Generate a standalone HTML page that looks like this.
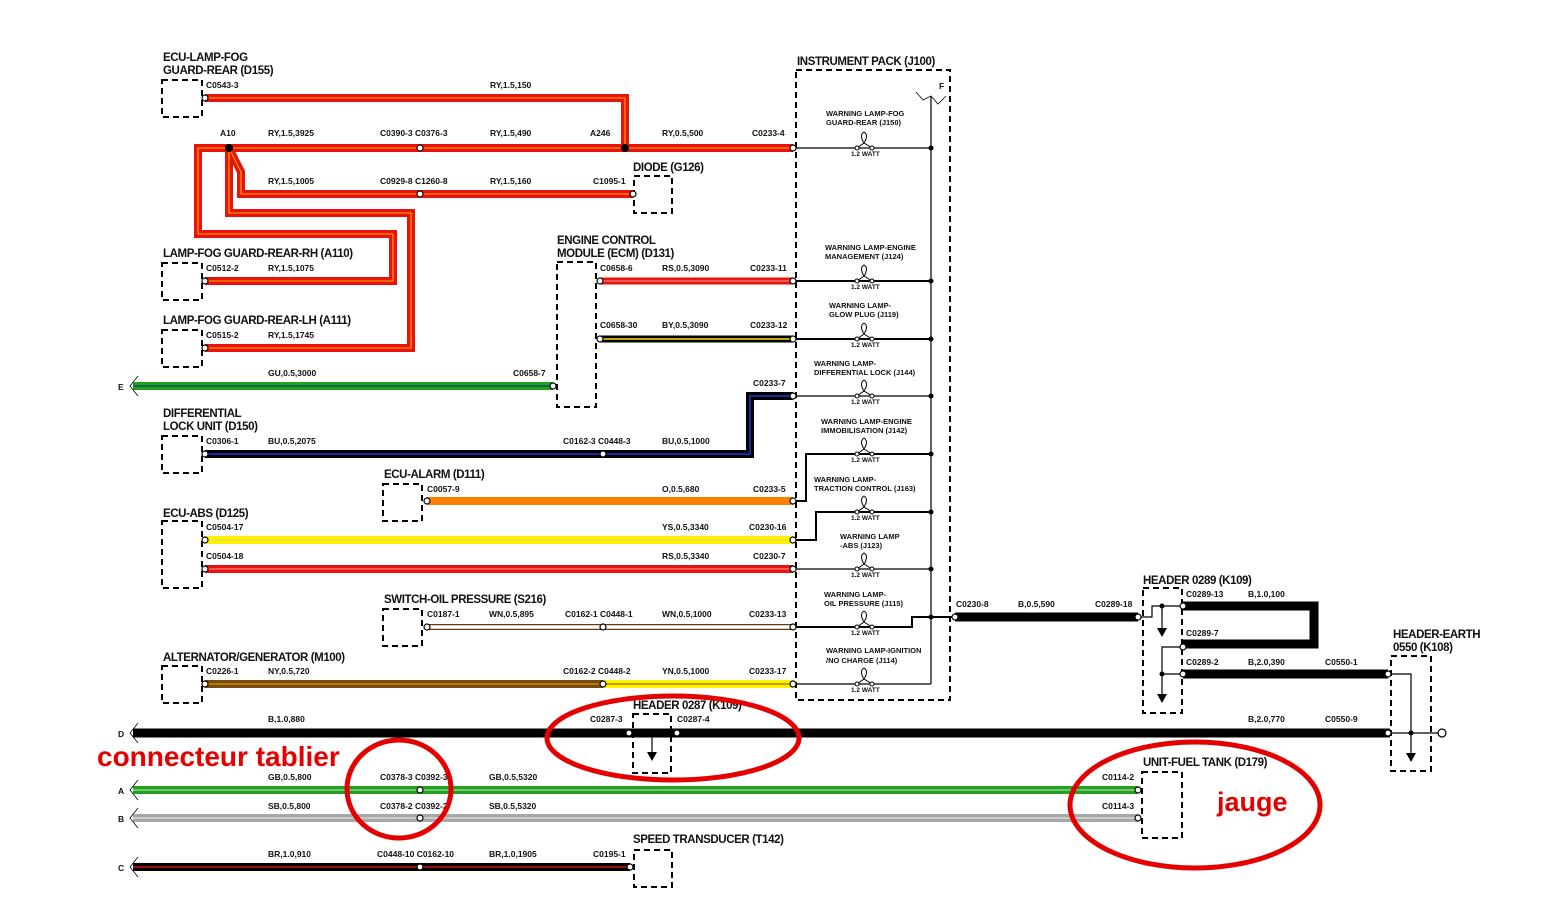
<!DOCTYPE html>
<html><head><meta charset="utf-8"><style>
html,body{margin:0;padding:0;background:#fff;}
svg{display:block;}
text{font-family:"Liberation Sans Narrow","Liberation Sans",sans-serif;fill:#111;}
.s{font-size:8.5px;font-weight:bold;}
.t{font-size:11.5px;font-weight:bold;letter-spacing:-0.4px;}
.l{font-size:7.5px;font-weight:bold;font-family:"Liberation Sans",sans-serif;}
.w{font-size:6.5px;font-weight:bold;font-family:"Liberation Sans",sans-serif;}
.box{fill:none;stroke:#000;stroke-width:2;stroke-dasharray:6,4;}
.c{fill:#fff;stroke:#000;stroke-width:1.2;}
</style></head><body>
<svg width="1547" height="908" viewBox="0 0 1547 908" xmlns="http://www.w3.org/2000/svg">
<g fill="none" stroke-linejoin="miter">
<g stroke="#e8140c" stroke-width="8">
<polyline points="205,98 625,98 625,148"/>
<polyline points="229,148 793,148"/>
<polyline points="229,148 241,172 241,194 633,194"/>
<polyline points="229,148 198,148 198,234 393,234 393,281 205,281"/>
<polyline points="229,148 229,213 411,213 411,348 205,348"/>
</g>
<g stroke="#ffe000" stroke-width="0.8">
<polyline points="205,98 625,98 625,148"/>
<polyline points="229,148 793,148"/>
<polyline points="229,148 241,172 241,194 633,194"/>
<polyline points="229,148 198,148 198,234 393,234 393,281 205,281"/>
<polyline points="229,148 229,213 411,213 411,348 205,348"/>
</g>
<line x1="600" y1="281" x2="793" y2="281" stroke="#e8140c" stroke-width="7"/>
<line x1="600" y1="281" x2="793" y2="281" stroke="#ff9a9a" stroke-width="1"/>
<line x1="600" y1="339" x2="793" y2="339" stroke="#000" stroke-width="7"/>
<line x1="600" y1="339" x2="793" y2="339" stroke="#ffe000" stroke-width="1.5"/>
<line x1="133" y1="386" x2="553" y2="386" stroke="#22a11e" stroke-width="8"/>
<line x1="133" y1="386" x2="553" y2="386" stroke="#0a2a8a" stroke-width="1"/>
<polyline points="205,454 750,454 750,396 793,396" stroke="#000" stroke-width="8"/>
<polyline points="205,454 750,454 750,396 793,396" stroke="#1a2aa0" stroke-width="2"/>
<line x1="427" y1="501" x2="793" y2="501" stroke="#ff7f00" stroke-width="8"/>
<line x1="205" y1="540" x2="793" y2="540" stroke="#fff200" stroke-width="8"/>
<line x1="205" y1="540" x2="793" y2="540" stroke="#d8d870" stroke-width="1"/>
<line x1="205" y1="569" x2="793" y2="569" stroke="#e8140c" stroke-width="8"/>
<line x1="205" y1="569" x2="793" y2="569" stroke="#ff9a9a" stroke-width="1"/>
<line x1="427" y1="627" x2="793" y2="627" stroke="#6b3b10" stroke-width="6"/>
<line x1="427" y1="627" x2="793" y2="627" stroke="#fff" stroke-width="3.5"/>
<line x1="205" y1="684" x2="603" y2="684" stroke="#7a4a0e" stroke-width="8"/>
<line x1="205" y1="684" x2="603" y2="684" stroke="#d9b000" stroke-width="1"/>
<line x1="603" y1="684" x2="793" y2="684" stroke="#fff200" stroke-width="8"/>
<line x1="603" y1="684" x2="793" y2="684" stroke="#7a4a0e" stroke-width="1"/>
<line x1="133" y1="733" x2="1390" y2="733" stroke="#000" stroke-width="9"/>
<line x1="133" y1="790" x2="1138" y2="790" stroke="#22a11e" stroke-width="8"/>
<line x1="133" y1="790" x2="1138" y2="790" stroke="#c8e8c0" stroke-width="1"/>
<line x1="133" y1="818" x2="1138" y2="818" stroke="#a8a8a8" stroke-width="8"/>
<line x1="133" y1="818" x2="1138" y2="818" stroke="#eee" stroke-width="1"/>
<line x1="133" y1="867" x2="630" y2="867" stroke="#000" stroke-width="8"/>
<line x1="133" y1="867" x2="630" y2="867" stroke="#d01010" stroke-width="1.5"/>
<line x1="955" y1="617" x2="1138" y2="617" stroke="#000" stroke-width="9"/>
<polyline points="1183,606 1314,606 1314,644 1183,644" stroke="#000" stroke-width="9"/>
<line x1="1183" y1="674" x2="1388" y2="674" stroke="#000" stroke-width="9"/>
</g>

<g stroke="#000" fill="none" stroke-width="1.2">
<line x1="931" y1="96" x2="931" y2="684"/>
<polyline points="916,92 923,100 931,96 938,104 946,96" stroke-width="0.8"/>
<line x1="796" y1="148" x2="931" y2="148"/>
<line x1="796" y1="281" x2="931" y2="281" stroke-width="2"/>
<line x1="796" y1="339" x2="931" y2="339" stroke-width="2"/>
<line x1="796" y1="396" x2="931" y2="396"/>
<polyline points="796,501 806,501 806,454 931,454" stroke-width="2"/>
<polyline points="796,540 816,540 816,512 931,512" stroke-width="2"/>
<line x1="796" y1="569" x2="931" y2="569"/>
<polyline points="796,627 912,627 912,617 955,617" stroke-width="2"/>
<line x1="796" y1="684" x2="931" y2="684"/>
</g>
<g fill="#000">
<circle cx="931" cy="148" r="2.5"/><circle cx="931" cy="281" r="2.5"/><circle cx="931" cy="339" r="2.5"/>
<circle cx="931" cy="396" r="2.5"/><circle cx="931" cy="454" r="2.5"/><circle cx="931" cy="512" r="2.5"/>
<circle cx="931" cy="569" r="2.5"/><circle cx="931" cy="617" r="2.5"/>
<circle cx="229" cy="148" r="4"/><circle cx="625" cy="148" r="4"/>
</g>
<g fill="#fff" stroke="#000" stroke-width="1">
<g id="lamp"><path d="M857,148 L864,143 Q859,135 864,132 Q869,135 864,143 L872,148" fill="none"/><circle cx="857" cy="148" r="2"/><circle cx="872" cy="148" r="2"/></g>
<use href="#lamp" y="133"/><use href="#lamp" y="191"/><use href="#lamp" y="248"/><use href="#lamp" y="306"/>
<use href="#lamp" y="364"/><use href="#lamp" y="421"/><use href="#lamp" y="479"/><use href="#lamp" y="536"/>
</g>
<g class="w">
<text x="851" y="156">1.2 WATT</text><text x="851" y="289">1.2 WATT</text><text x="851" y="347">1.2 WATT</text>
<text x="851" y="404">1.2 WATT</text><text x="851" y="462">1.2 WATT</text><text x="851" y="520">1.2 WATT</text>
<text x="851" y="577">1.2 WATT</text><text x="851" y="635">1.2 WATT</text><text x="851" y="692">1.2 WATT</text>
</g>
<g class="l">
<text x="826" y="116">WARNING LAMP-FOG</text><text x="826" y="125">GUARD-REAR (J150)</text>
<text x="825" y="250">WARNING LAMP-ENGINE</text><text x="825" y="259">MANAGEMENT (J124)</text>
<text x="829" y="308">WARNING LAMP-</text><text x="829" y="317">GLOW PLUG (J119)</text>
<text x="814" y="366">WARNING LAMP-</text><text x="814" y="375">DIFFERENTIAL LOCK (J144)</text>
<text x="821" y="424">WARNING LAMP-ENGINE</text><text x="821" y="433">IMMOBILISATION (J142)</text>
<text x="814" y="482">WARNING LAMP-</text><text x="814" y="491">TRACTION CONTROL (J163)</text>
<text x="840" y="539">WARNING LAMP</text><text x="840" y="548">-ABS (J123)</text>
<text x="824" y="597">WARNING LAMP-</text><text x="824" y="606">OIL PRESSURE (J115)</text>
<text x="826" y="653">WARNING LAMP-IGNITION</text><text x="826" y="663">/NO CHARGE (J114)</text>
</g>
<text class="s" x="939" y="89">F</text>

<g stroke="#000" fill="none" stroke-width="1.2">
<polyline points="1138,617 1152,617 1152,606 1183,606"/>
<line x1="1162" y1="606" x2="1162" y2="628"/>
<polyline points="1183,647 1162,647 1162,674 1183,674"/>
<line x1="1162" y1="674" x2="1162" y2="694"/>
<polyline points="1388,674 1411,674 1411,753"/>
<line x1="1390" y1="733" x2="1438" y2="733"/>
<line x1="629" y1="733" x2="677" y2="733"/>
<line x1="652" y1="733" x2="652" y2="752"/>
</g>
<g fill="#000">
<circle cx="1162" cy="606" r="2.5"/><circle cx="1162" cy="674" r="2.5"/><circle cx="1411" cy="733" r="2.5"/><circle cx="652" cy="733" r="2.5"/>
<path d="M1157,628 L1167,628 L1162,637Z"/><path d="M1157,694 L1167,694 L1162,703Z"/><path d="M1406,753 L1416,753 L1411,762Z"/><path d="M647,752 L657,752 L652,761Z"/>
</g>
<circle cx="1442" cy="733" r="4" fill="#fff" stroke="#000" stroke-width="1.2"/>

<g class="box">
<rect x="796" y="70" width="154" height="630"/>
<rect x="162" y="80" width="40" height="37"/>
<rect x="634" y="176" width="38" height="37"/>
<rect x="162" y="263" width="40" height="37"/>
<rect x="162" y="330" width="40" height="37"/>
<rect x="557" y="262" width="39" height="145"/>
<rect x="162" y="436" width="40" height="37"/>
<rect x="383" y="484" width="39" height="37"/>
<rect x="162" y="521" width="40" height="67"/>
<rect x="383" y="609" width="39" height="37"/>
<rect x="162" y="666" width="40" height="37"/>
<rect x="633" y="714" width="38" height="59"/>
<rect x="634" y="850" width="38" height="37"/>
<rect x="1143" y="588" width="39" height="125"/>
<rect x="1391" y="656" width="40" height="115"/>
<rect x="1142" y="772" width="40" height="66"/>
</g>

<g class="c">
<circle cx="205" cy="98" r="3"/><circle cx="420" cy="148" r="3"/><circle cx="793" cy="148" r="3"/>
<circle cx="420" cy="194" r="3"/><circle cx="633" cy="194" r="3"/>
<circle cx="205" cy="281" r="3"/><circle cx="205" cy="348" r="3"/>
<circle cx="600" cy="281" r="3"/><circle cx="793" cy="281" r="3"/>
<circle cx="600" cy="339" r="3"/><circle cx="793" cy="339" r="3"/>
<circle cx="553" cy="386" r="3"/><circle cx="793" cy="396" r="3"/>
<circle cx="205" cy="454" r="3"/><circle cx="603" cy="454" r="3"/>
<circle cx="427" cy="501" r="3"/><circle cx="793" cy="501" r="3"/>
<circle cx="205" cy="540" r="3"/><circle cx="793" cy="540" r="3"/>
<circle cx="205" cy="569" r="3"/><circle cx="793" cy="569" r="3"/>
<circle cx="427" cy="627" r="3"/><circle cx="603" cy="627" r="3"/><circle cx="793" cy="627" r="3"/>
<circle cx="205" cy="684" r="3"/><circle cx="603" cy="684" r="3"/><circle cx="793" cy="684" r="3"/>
<circle cx="629" cy="733" r="3"/><circle cx="677" cy="733" r="3"/>
<circle cx="420" cy="790" r="3"/><circle cx="420" cy="818" r="3"/><circle cx="420" cy="867" r="3"/><circle cx="630" cy="867" r="3"/>
<circle cx="1138" cy="790" r="3"/><circle cx="1138" cy="818" r="3"/>
<circle cx="955" cy="617" r="3"/><circle cx="1138" cy="617" r="3"/>
<circle cx="1183" cy="606" r="3"/><circle cx="1183" cy="647" r="3"/><circle cx="1183" cy="674" r="3"/>
<circle cx="1388" cy="674" r="3"/><circle cx="1388" cy="733" r="3"/>
</g>

<g stroke="#000" fill="none" stroke-width="0.8">
<polyline points="138,376 130,386 138,396"/><polyline points="138,723 130,733 138,743"/>
<polyline points="138,780 130,790 138,800"/><polyline points="138,808 130,818 138,828"/>
<polyline points="138,857 130,867 138,877"/>
</g>
<g class="s"><text x="118" y="390">E</text><text x="118" y="737">D</text><text x="118" y="794">A</text><text x="118" y="822">B</text><text x="118" y="871">C</text></g>

<g class="t">
<text x="163" y="61">ECU-LAMP-FOG</text><text x="163" y="74">GUARD-REAR (D155)</text>
<text x="797" y="65">INSTRUMENT PACK (J100)</text>
<text x="633" y="171">DIODE (G126)</text>
<text x="557" y="244">ENGINE CONTROL</text><text x="557" y="257">MODULE (ECM) (D131)</text>
<text x="163" y="257">LAMP-FOG GUARD-REAR-RH (A110)</text>
<text x="163" y="324">LAMP-FOG GUARD-REAR-LH (A111)</text>
<text x="163" y="417">DIFFERENTIAL</text><text x="163" y="430">LOCK UNIT (D150)</text>
<text x="384" y="478">ECU-ALARM (D111)</text>
<text x="163" y="517">ECU-ABS (D125)</text>
<text x="384" y="603">SWITCH-OIL PRESSURE (S216)</text>
<text x="163" y="661">ALTERNATOR/GENERATOR (M100)</text>
<text x="633" y="709">HEADER 0287 (K109)</text>
<text x="1143" y="584">HEADER 0289 (K109)</text>
<text x="1393" y="638">HEADER-EARTH</text><text x="1393" y="651">0550 (K108)</text>
<text x="1143" y="766">UNIT-FUEL TANK (D179)</text>
<text x="633" y="843">SPEED TRANSDUCER (T142)</text>
</g>

<g class="s">
<text x="206" y="88">C0543-3</text><text x="490" y="88">RY,1.5,150</text>
<text x="220" y="136">A10</text><text x="268" y="136">RY,1.5,3925</text><text x="380" y="136">C0390-3 C0376-3</text><text x="490" y="136">RY,1.5,490</text><text x="590" y="136">A246</text><text x="662" y="136">RY,0.5,500</text><text x="752" y="136">C0233-4</text>
<text x="268" y="184">RY,1.5,1005</text><text x="380" y="184">C0929-8 C1260-8</text><text x="490" y="184">RY,1.5,160</text><text x="593" y="184">C1095-1</text>
<text x="206" y="271">C0512-2</text><text x="268" y="271">RY,1.5,1075</text>
<text x="600" y="271">C0658-6</text><text x="662" y="271">RS,0.5,3090</text><text x="750" y="271">C0233-11</text>
<text x="600" y="328">C0658-30</text><text x="662" y="328">BY,0.5,3090</text><text x="750" y="328">C0233-12</text>
<text x="206" y="338">C0515-2</text><text x="268" y="338">RY,1.5,1745</text>
<text x="268" y="376">GU,0.5,3000</text><text x="513" y="376">C0658-7</text>
<text x="753" y="386">C0233-7</text>
<text x="206" y="444">C0306-1</text><text x="268" y="444">BU,0.5,2075</text><text x="563" y="444">C0162-3 C0448-3</text><text x="662" y="444">BU,0.5,1000</text>
<text x="427" y="492">C0057-9</text><text x="662" y="492">O,0.5,680</text><text x="753" y="492">C0233-5</text>
<text x="206" y="530">C0504-17</text><text x="662" y="530">YS,0.5,3340</text><text x="749" y="530">C0230-16</text>
<text x="206" y="559">C0504-18</text><text x="662" y="559">RS,0.5,3340</text><text x="753" y="559">C0230-7</text>
<text x="427" y="617">C0187-1</text><text x="489" y="617">WN,0.5,895</text><text x="565" y="617">C0162-1 C0448-1</text><text x="662" y="617">WN,0.5,1000</text><text x="749" y="617">C0233-13</text>
<text x="206" y="674">C0226-1</text><text x="268" y="674">NY,0.5,720</text><text x="563" y="674">C0162-2 C0448-2</text><text x="662" y="674">YN,0.5,1000</text><text x="749" y="674">C0233-17</text>
<text x="268" y="722">B,1.0,880</text><text x="590" y="722">C0287-3</text><text x="677" y="722">C0287-4</text><text x="1248" y="722">B,2.0,770</text><text x="1325" y="722">C0550-9</text>
<text x="268" y="780">GB,0.5,800</text><text x="380" y="780">C0378-3 C0392-3</text><text x="489" y="780">GB,0.5,5320</text><text x="1102" y="780">C0114-2</text>
<text x="268" y="809">SB,0.5,800</text><text x="380" y="809">C0378-2 C0392-2</text><text x="489" y="809">SB,0.5,5320</text><text x="1102" y="809">C0114-3</text>
<text x="268" y="857">BR,1.0,910</text><text x="377" y="857">C0448-10 C0162-10</text><text x="489" y="857">BR,1.0,1905</text><text x="593" y="857">C0195-1</text>
<text x="956" y="607">C0230-8</text><text x="1018" y="607">B,0.5,590</text><text x="1095" y="607">C0289-18</text>
<text x="1186" y="597">C0289-13</text><text x="1248" y="597">B,1.0,100</text>
<text x="1186" y="636">C0289-7</text>
<text x="1186" y="665">C0289-2</text><text x="1248" y="665">B,2.0,390</text><text x="1325" y="665">C0550-1</text>
</g>

<g fill="none" stroke="#e50000" stroke-width="5">
<ellipse cx="673" cy="738" rx="126" ry="42"/>
<ellipse cx="399" cy="789" rx="52" ry="49"/>
<ellipse cx="1195" cy="805" rx="125" ry="63"/>
</g>
<text x="97" y="766" style="font-family:'Liberation Sans',sans-serif;font-size:28px;font-weight:bold;fill:#e50000">connecteur tablier</text>
<text x="1217" y="811" style="font-family:'Liberation Sans',sans-serif;font-size:27px;font-weight:bold;fill:#e50000">jauge</text>
</svg>
</body></html>
